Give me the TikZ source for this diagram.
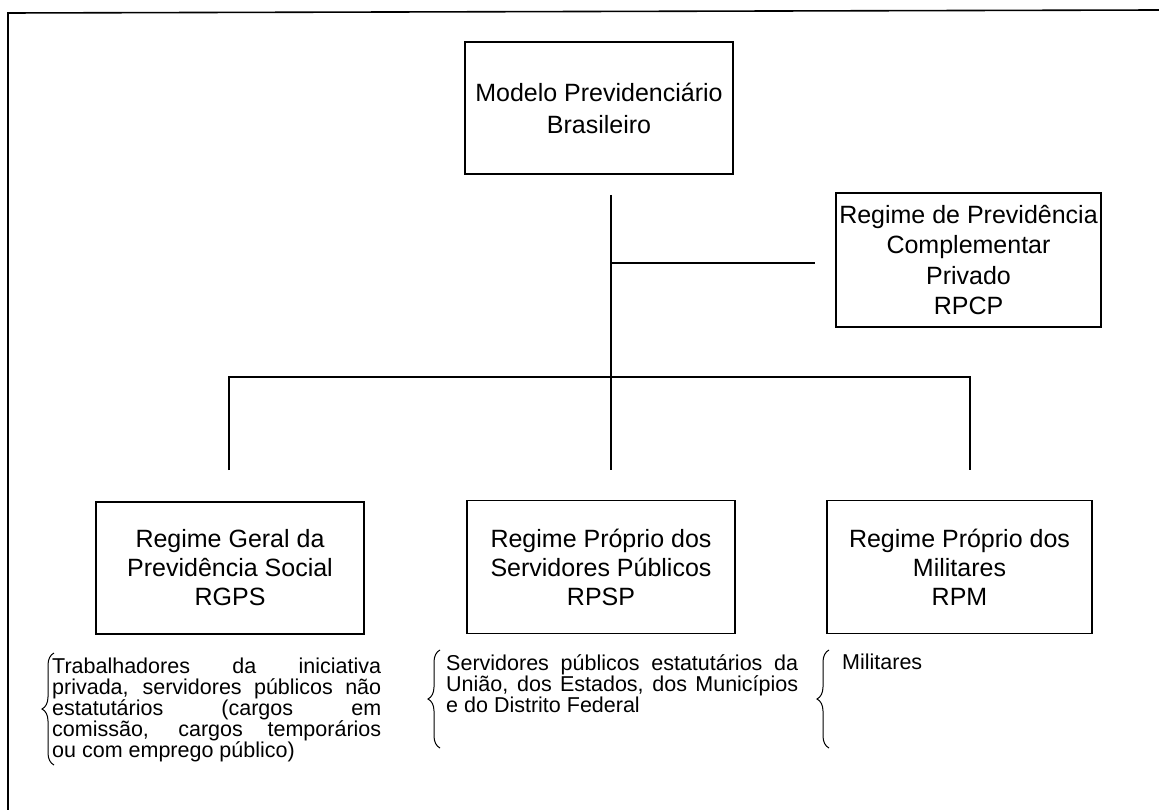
\documentclass[tikz,border=0pt]{standalone}
\usepackage{fontspec}
\setmainfont{Liberation Sans}
\usetikzlibrary{decorations.pathreplacing}
\begin{document}
\begin{tikzpicture}[x=1pt,y=-1pt,
  box/.style={draw, line width=1.4pt, rectangle, inner sep=0pt, align=center},
  conn/.style={line width=1.4pt},
  brc/.style={decorate, decoration={brace, amplitude=12pt}, line width=1pt},
  note/.style={anchor=north west, inner sep=0pt, align=left, font=\fontsize{21.5}{21}\selectfont}]
\useasboundingbox (0,0) rectangle (1159,810);
\draw[line width=1.6pt] (8,810) -- (8,13) -- (1159,10);
\node[box, minimum width=268pt, minimum height=132pt, font=\fontsize{25}{32}\selectfont] (top) at (599,108) {Modelo Previdenciário\\Brasileiro};
\node[box, minimum width=265pt, minimum height=134pt, font=\fontsize{25}{30.5}\selectfont] (rpcp) at (968.5,260) {Regime de Previdência\\Complementar\\Privado\\RPCP};
\node[box, minimum width=268pt, minimum height=132pt, font=\fontsize{25}{29}\selectfont] (rgps) at (230,568) {Regime Geral da\\Previdência Social\\RGPS};
\node[box, minimum width=268pt, minimum height=133pt, font=\fontsize{25}{29}\selectfont] (rpsp) at (601,567) {Regime Próprio dos\\Servidores Públicos\\RPSP};
\node[box, minimum width=265pt, minimum height=133pt, font=\fontsize{25}{29}\selectfont] (rpm) at (959.5,567) {Regime Próprio dos\\Militares\\RPM};
\coordinate (j0) at (611,195);
\coordinate (j1) at (611,263);
\coordinate (be) at (815,263);
\coordinate (dm) at (611,470);
\coordinate (jl) at (229,377);
\coordinate (jr) at (970,377);
\coordinate (dl) at (229,470);
\coordinate (dr) at (970,470);
\draw[conn] (j0) -- (dm);
\draw[conn] (j1) -- (be);
\draw[conn] (dl) -- (jl) -- (jr) -- (dr);
\node[note] (lt) at (52,658) {\makebox[329pt][s]{Trabalhadores da iniciativa}\\\makebox[329pt][s]{privada, servidores públicos não}\\\makebox[329pt][s]{estatutários (cargos em}\\\makebox[329pt][s]{comissão, cargos temporários}\\ou com emprego público)};
\node[note] (mt) at (446,654) {\makebox[352pt][s]{Servidores públicos estatutários da}\\\makebox[352pt][s]{União, dos Estados, dos Municípios}\\e do Distrito Federal};
\node[note] (rt) at (842,654) {Militares};
\draw[brc] (54,765) -- (54,653);
\draw[brc] (440,748) -- (440,650);
\draw[brc] (829,748) -- (829,650);
\end{tikzpicture}
\end{document}
